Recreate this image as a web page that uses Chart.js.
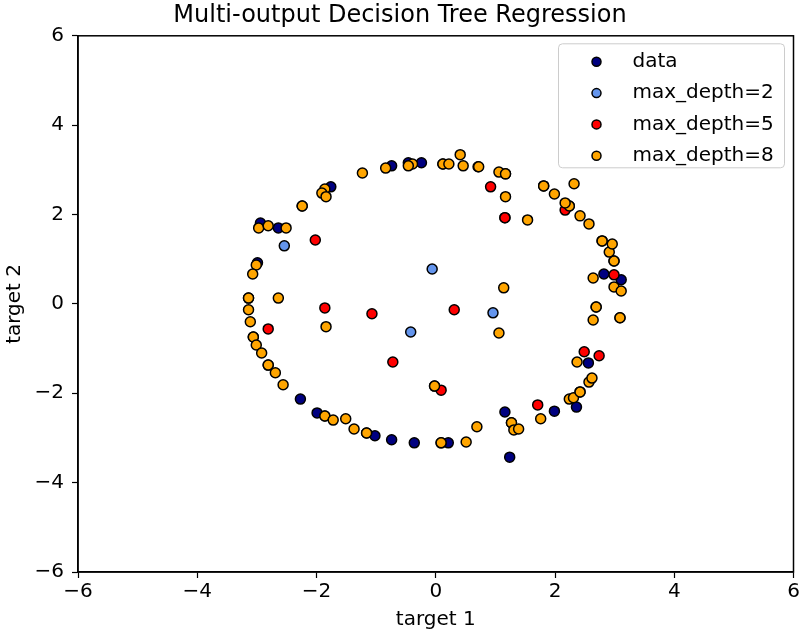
<!DOCTYPE html>
<html>
<head>
<meta charset="utf-8">
<script src="https://cdn.jsdelivr.net/npm/chart.js@4.4.1/dist/chart.umd.min.js"></script>
<style>
  html, body { margin: 0; padding: 0; background: #fff; }
  #wrap { width: 800px; height: 635px; }
</style>
</head>
<body>
<div id="wrap"><canvas id="treeChart" width="800" height="635"></canvas></div>
<script>
// values, [target 1, target 2]
const dataPoints = [
  [-2.94, 1.81], [-2.64, 1.70], [-1.76, 2.62], [-0.74, 3.09], [-0.24, 3.16], [-0.46, 3.16],
  [-2.99, 0.92], [-2.27, -2.13], [-1.99, -2.44], [-1.02, -2.95], [-0.74, -3.04], [-0.36, -3.11],
  [0.21, -3.11], [1.16, -2.42], [1.24, -3.43], [1.99, -2.40], [2.36, -2.31], [2.56, -1.32],
  [2.82, 0.67], [3.11, 0.54], [-3.14, 0.13], [-2.81, -1.37], [0.12, 3.13], [1.81, 2.64],
  [2.79, 1.41], [2.69, -0.07], [0.09, -3.11], [-1.86, -2.51], [1.27, -2.66], [2.42, -1.97],
  [-2.24, 2.19], [3.09, -0.31], [0.71, 3.07], [1.17, 2.91], [2.99, 0.96], [-3.06, -0.74],
  [-1.16, -2.89], [2.24, 2.19], [-0.02, -1.84], [1.16, 1.93]
];
const depth2Points = [[-2.54, 1.30], [-0.06, 0.78], [-0.42, -0.63], [0.96, -0.20]];
const depth5Points = [
  [-2.02, 1.43], [-1.86, -0.09], [-1.07, -0.22], [0.31, -0.13], [-2.81, -0.56], [-0.72, -1.30],
  [0.09, -1.93], [0.92, 2.62], [1.16, 1.93], [2.17, 2.10], [2.99, 0.65], [2.49, -1.07],
  [2.74, -1.16], [1.71, -2.26]
];
const depth8Points = [
  [-1.23, 2.93], [-0.84, 3.04], [-0.39, 3.13], [-0.46, 3.09], [0.12, 3.13], [0.22, 3.13],
  [0.41, 3.34], [0.46, 3.09], [0.72, 3.07], [1.06, 2.95], [1.17, 2.91], [-1.86, 2.57],
  [-1.91, 2.48], [-1.84, 2.40], [-2.24, 2.19], [-2.97, 1.70], [-2.81, 1.75], [-2.51, 1.70],
  [-3.01, 0.87], [-3.07, 0.67], [-3.14, 0.13], [-2.64, 0.13], [-3.14, -0.13], [-3.11, -0.40],
  [-3.06, -0.74], [-3.01, -0.92], [-2.92, -1.10], [-2.81, -1.37], [-2.69, -1.54], [-2.56, -1.81],
  [-1.84, -0.51], [-1.86, -2.51], [-1.72, -2.60], [-1.51, -2.57], [-1.37, -2.80], [-1.16, -2.89],
  [-0.02, -1.84], [0.09, -3.11], [0.51, -3.09], [0.69, -2.75], [1.27, -2.66], [1.31, -2.82],
  [1.39, -2.80], [1.76, -2.57], [2.24, -2.13], [2.31, -2.10], [2.42, -1.97], [2.57, -1.75],
  [2.62, -1.66], [2.37, -1.30], [1.06, -0.65], [2.69, -0.07], [2.64, -0.36], [3.09, -0.31],
  [2.64, 0.58], [2.99, 0.38], [3.11, 0.29], [2.99, 0.96], [2.91, 1.16], [2.96, 1.34],
  [2.79, 1.41], [2.57, 1.79], [2.42, 1.97], [2.24, 2.19], [2.17, 2.26], [1.99, 2.46],
  [1.81, 2.64], [2.32, 2.69], [1.54, 1.88], [1.17, 2.40], [1.14, 0.36]
];
const seriesLabels = ['data', 'max_depth=2', 'max_depth=5', 'max_depth=8'];
const seriesColors = ['#000080', '#6495ed', '#ff0000', '#ffa500'];
const axisTicks = [-6, -4, -2, 0, 2, 4, 6];

const FONT = "'DejaVu Sans', sans-serif";

function toXY(list) {
  return list.map(p => ({ x: p[0], y: p[1] }));
}

function tickText(v) {
  return v < 0 ? '\u2212' + Math.abs(v) : String(v);
}

// matplotlib-like box around the axes
const frameBox = {
  id: 'frameBox',
  afterDatasetsDraw(chart) {
    const { ctx, chartArea: a } = chart;
    ctx.save();
    ctx.strokeStyle = '#000';
    ctx.lineWidth = 1.5;
    ctx.strokeRect(a.left, a.top, a.right - a.left, a.bottom - a.top);
    ctx.restore();
  }
};

// legend drawn inside the axes, upper right
const innerLegend = {
  id: 'innerLegend',
  afterDraw(chart) {
    const ctx = chart.ctx;
    const a = chart.chartArea;
    const w = 226, h = 124;
    const x0 = a.right - 9 - w, y0 = a.top + 8;
    ctx.save();
    ctx.beginPath();
    ctx.roundRect(x0, y0, w, h, 4);
    ctx.fillStyle = 'rgba(255,255,255,0.8)';
    ctx.fill();
    ctx.strokeStyle = '#cccccc';
    ctx.lineWidth = 1;
    ctx.stroke();
    ctx.font = '20px ' + FONT;
    ctx.textBaseline = 'middle';
    chart.data.datasets.forEach((ds, i) => {
      const cy = y0 + 18 + i * 31.3;
      ctx.beginPath();
      ctx.arc(x0 + 38, cy, 4.5, 0, Math.PI * 2);
      ctx.fillStyle = ds.backgroundColor;
      ctx.fill();
      ctx.lineWidth = 1.5;
      ctx.strokeStyle = '#000';
      ctx.stroke();
      ctx.fillStyle = '#000';
      ctx.fillText(ds.label, x0 + 74, cy);
    });
    ctx.restore();
  }
};

const allSeries = [dataPoints, depth2Points, depth5Points, depth8Points];

const datasets = allSeries.map((pts, i) => ({
  label: seriesLabels[i],
  data: toXY(pts),
  backgroundColor: seriesColors[i],
  borderColor: '#000',
  borderWidth: 1.5,
  pointRadius: 5,
  order: 4 - i
}));

const axisCommon = {
  type: 'linear',
  min: -6,
  max: 6,
  afterBuildTicks(scale) {
    scale.ticks = axisTicks.map(v => ({ value: v }));
  },
  grid: {
    display: true,
    drawOnChartArea: false,
    drawTicks: true,
    tickLength: 6,
    color: '#000',
    tickWidth: 1.2
  },
  border: { display: true, color: '#000', width: 1.5 }
};

new Chart(document.getElementById('treeChart'), {
  type: 'scatter',
  data: { datasets },
  options: {
    responsive: false,
    animation: false,
    layout: { padding: { left: 0, right: 0, top: 0, bottom: 0 } },
    plugins: {
      legend: { display: false },
      tooltip: { enabled: false },
      title: {
        display: true,
        text: 'Multi-output Decision Tree Regression',
        color: '#000',
        font: { family: FONT, size: 24, weight: 'normal' },
        padding: { top: 1, bottom: 6 }
      }
    },
    scales: {
      x: {
        ...axisCommon,
        position: 'bottom',
        afterFit(scale) {
          scale.height = 63;
          scale.paddingLeft = 0;
          scale.paddingRight = 0;
        },
        ticks: {
          color: '#000',
          font: { family: FONT, size: 20 },
          padding: 2,
          maxRotation: 0,
          callback: tickText
        },
        title: {
          display: true,
          text: 'target 1',
          color: '#000',
          font: { family: FONT, size: 20 },
          padding: { top: 0, bottom: 3 }
        }
      },
      y: {
        ...axisCommon,
        position: 'left',
        afterFit(scale) {
          scale.width = 78;
          scale.paddingTop = 0;
          scale.paddingBottom = 0;
        },
        ticks: {
          color: '#000',
          font: { family: FONT, size: 20 },
          padding: 8,
          callback: tickText
        },
        title: {
          display: true,
          text: 'target 2',
          color: '#000',
          font: { family: FONT, size: 20 },
          padding: { top: 3, bottom: 0 }
        }
      }
    }
  },
  plugins: [frameBox, innerLegend]
});
</script>
</body>
</html>
